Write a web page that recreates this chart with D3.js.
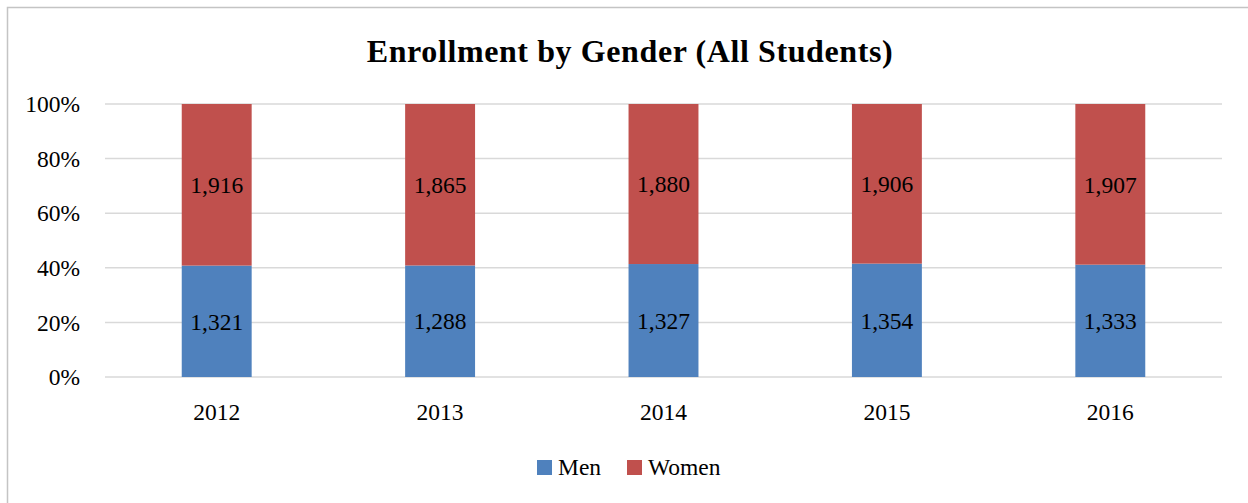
<!DOCTYPE html>
<html>
<head>
<meta charset="utf-8">
<script src="https://cdn.jsdelivr.net/npm/d3@7"></script>
<style>
  body { margin: 0; background: #fff; }
  svg { display: block; font-family: "Liberation Serif", "Times New Roman", serif; }
</style>
</head>
<body>
<svg width="1248" height="503"></svg>
<script>
var years = ["2012", "2013", "2014", "2015", "2016"];
var men = [1321, 1288, 1327, 1354, 1333];
var women = [1916, 1865, 1880, 1906, 1907];
var seriesNames = ["Men", "Women"];
var seriesColors = ["#4f81bd", "#c0504d"];
var pctTicks = [0, 0.2, 0.4, 0.6, 0.8, 1];

var svg = d3.select("svg"),
  width = +svg.attr("width"),
  height = +svg.attr("height");

// chart frame (only top and left edges fall inside the picture)
svg.append("rect")
  .attr("x", 7.5).attr("y", 7.5)
  .attr("width", width + 20).attr("height", height + 20)
  .style("fill", "none")
  .style("stroke", "#c4c4c4")
  .style("stroke-width", 1.5);

var margin = {left: 105, right: 26, top: 104, bottom: 126};

var x = d3.scaleBand()
  .domain(years)
  .range([margin.left, width - margin.right])
  .paddingInner(0.687)
  .paddingOuter(0.3435);

var y = d3.scaleLinear()
  .domain([0, 1])
  .range([height - margin.bottom, margin.top]);

var rows = years.map(function(yr, i) {
  return {year: yr, Men: men[i], Women: women[i]};
});

var stack = d3.stack().keys(seriesNames).offset(d3.stackOffsetExpand);
var layers = stack(rows);

// gridlines
svg.append("g")
  .selectAll("line")
  .data(pctTicks)
  .enter().append("line")
  .attr("x1", margin.left)
  .attr("x2", width - margin.right)
  .attr("y1", function(d) { return y(d); })
  .attr("y2", function(d) { return y(d); })
  .style("stroke", "#d9d9d9")
  .style("stroke-width", 1.5);

// y axis labels
var yAxis = d3.axisLeft(y)
  .tickValues(pctTicks)
  .tickFormat(d3.format(".0%"))
  .tickSize(0)
  .tickPadding(25);

var yg = svg.append("g")
  .attr("transform", "translate(" + margin.left + ",0)")
  .call(yAxis)
  .attr("font-family", null)
  .attr("font-size", null);
yg.select(".domain").remove();
yg.selectAll("text")
  .style("font-size", "23.5px")
  .style("fill", "#000")
  .attr("dy", "0.33em");

// x axis labels
var xAxis = d3.axisBottom(x).tickSize(0).tickPadding(26);
var xg = svg.append("g")
  .attr("transform", "translate(0," + y(0) + ")")
  .call(xAxis)
  .attr("font-family", null)
  .attr("font-size", null);
xg.select(".domain").remove();
xg.selectAll("text")
  .style("font-size", "23.5px")
  .style("fill", "#000");

// bars
var layer = svg.append("g")
  .selectAll("g")
  .data(layers)
  .enter().append("g")
  .style("fill", function(d, i) { return seriesColors[i]; });

layer.selectAll("rect")
  .data(function(d) { return d; })
  .enter().append("rect")
  .attr("x", function(d) { return x(d.data.year); })
  .attr("width", x.bandwidth())
  .attr("y", function(d) { return y(d[1]); })
  .attr("height", function(d) { return y(d[0]) - y(d[1]); });

// data labels
var fmt = d3.format(",");
layers.forEach(function(ly) {
  svg.append("g")
    .selectAll("text")
    .data(ly)
    .enter().append("text")
    .attr("x", function(d) { return x(d.data.year) + x.bandwidth() / 2; })
    .attr("y", function(d) { return y((d[0] + d[1]) / 2); })
    .attr("dy", "0.35em")
    .attr("text-anchor", "middle")
    .style("font-size", "23.5px")
    .style("fill", "#000")
    .text(function(d) { return fmt(d.data[ly.key]); });
});

// title
svg.append("text")
  .attr("x", 630)
  .attr("y", 62)
  .attr("text-anchor", "middle")
  .style("font-size", "32px")
  .style("letter-spacing", "0.6px")
  .style("font-weight", "bold")
  .text("Enrollment by Gender (All Students)");

// legend
var legend = svg.append("g");
var lx = [537, 627];
seriesNames.forEach(function(name, i) {
  legend.append("rect")
    .attr("x", lx[i]).attr("y", 460)
    .attr("width", 15).attr("height", 15)
    .style("fill", seriesColors[i]);
  legend.append("text")
    .attr("x", lx[i] + 21).attr("y", 475)
    .style("font-size", "23.5px")
    .text(name);
});
</script>
</body>
</html>
